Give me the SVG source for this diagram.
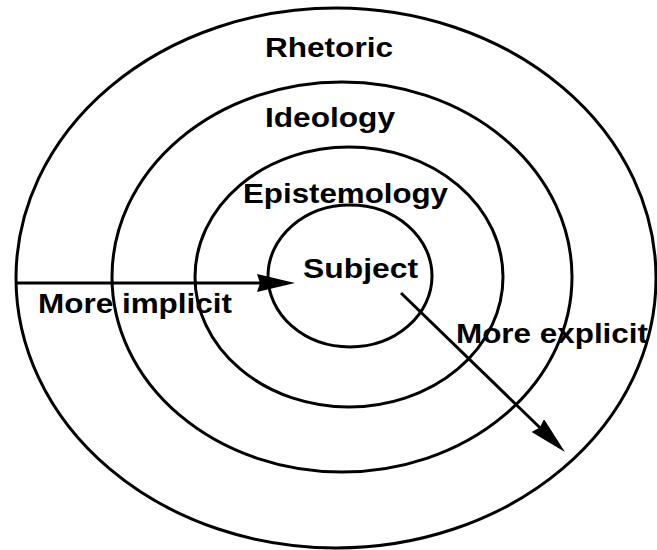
<svg xmlns="http://www.w3.org/2000/svg" width="657" height="550" viewBox="0 0 657 550">
<style>
.ring{fill:none;stroke:#000;stroke-width:3}
.lbl{font-family:"Liberation Sans",Arial,sans-serif;font-weight:bold;font-size:27px;fill:#000}
.conn{stroke:#000;stroke-width:3;fill:none}
</style>
<defs>
<marker id="arrow" viewBox="0 0 38 18" markerWidth="38" markerHeight="18" refX="28" refY="9" orient="auto" markerUnits="userSpaceOnUse">
<path d="M0,0 L38,9 L0,18 L3,9 Z" fill="#000"/>
</marker>
</defs>
<rect width="657" height="550" fill="#fff"/>
<g id="rhetoric">
<ellipse class="ring" cx="336" cy="278" rx="320" ry="270"/>
<text class="lbl" x="265" y="57" textLength="128" lengthAdjust="spacingAndGlyphs">Rhetoric</text>
</g>
<g id="ideology">
<ellipse class="ring" cx="342" cy="277" rx="230" ry="195"/>
<text class="lbl" x="265" y="127" textLength="130" lengthAdjust="spacingAndGlyphs">Ideology</text>
</g>
<g id="epistemology">
<ellipse class="ring" cx="349" cy="277" rx="154" ry="130"/>
<text class="lbl" x="243" y="203" textLength="205" lengthAdjust="spacingAndGlyphs">Epistemology</text>
</g>
<g id="subject">
<ellipse class="ring" cx="350" cy="276" rx="82" ry="71"/>
<text class="lbl" x="303" y="278" textLength="115" lengthAdjust="spacingAndGlyphs">Subject</text>
</g>
<g id="connectors">
<line class="conn" x1="16" y1="283" x2="285" y2="283" marker-end="url(#arrow)"/>
<line class="conn" x1="401" y1="293" x2="557.8" y2="445" marker-end="url(#arrow)"/>
</g>
<g id="arrow-labels">
<text class="lbl" x="38" y="313" textLength="194" lengthAdjust="spacingAndGlyphs">More implicit</text>
<text class="lbl" x="456" y="343" textLength="192" lengthAdjust="spacingAndGlyphs">More explicit</text>
</g>
</svg>
